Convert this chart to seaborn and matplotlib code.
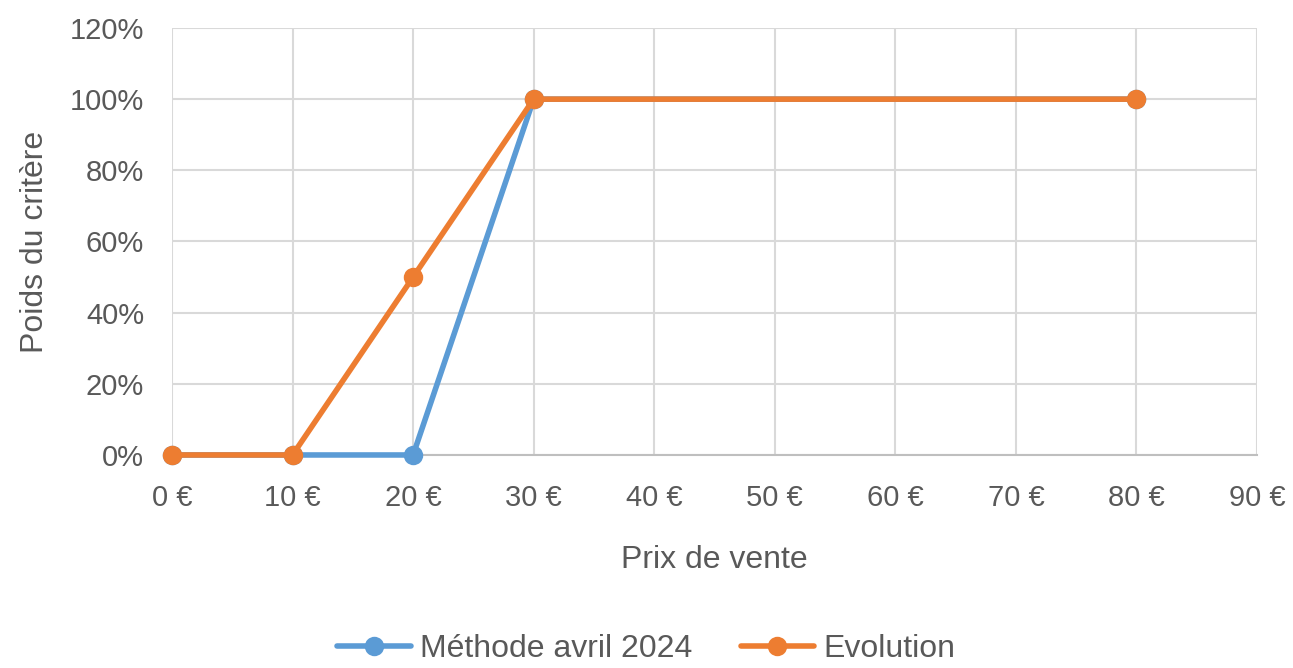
import matplotlib
matplotlib.use("Agg")
import matplotlib.pyplot as plt
import seaborn as sns
import pandas as pd
from matplotlib.ticker import FuncFormatter, MultipleLocator

# Price points (euros) and criterion weight (%) for each method
prix = [0, 10, 20, 30, 80]
methode_avril_2024 = [0, 0, 0, 100, 100]
evolution = [0, 0, 50, 100, 100]
series_names = ["Méthode avril 2024", "Evolution"]
colors = ["#5B9BD5", "#ED7D31"]

df = pd.concat([
    pd.DataFrame({"prix": prix, "poids": methode_avril_2024, "serie": series_names[0]}),
    pd.DataFrame({"prix": prix, "poids": evolution, "serie": series_names[1]}),
])

sns.set_theme(style="white")
plt.rcParams["font.family"] = ["Liberation Sans", "DejaVu Sans"]
text_color = "#595959"

fig = plt.figure(figsize=(12.93, 6.68), dpi=100)
ax = fig.add_axes([0.1330, 0.3189, 0.8392, 0.6392])

sns.lineplot(data=df, x="prix", y="poids", hue="serie", palette=colors,
             hue_order=series_names, marker="o", markersize=14,
             markeredgewidth=0, linewidth=4, ax=ax, legend=True, sort=False)

ax.set_xlim(0, 90)
ax.set_ylim(0, 120)
ax.xaxis.set_major_locator(MultipleLocator(10))
ax.yaxis.set_major_locator(MultipleLocator(20))
ax.xaxis.set_major_formatter(FuncFormatter(lambda v, p: f"{v:.0f} €"))
ax.yaxis.set_major_formatter(FuncFormatter(lambda v, p: f"{v:.0f}%"))
ax.grid(True, color="#D9D9D9", linewidth=1.5)
ax.set_axisbelow(True)
for s in ["top", "right", "left"]:
    ax.spines[s].set_visible(False)
ax.spines["bottom"].set_color("#BFBFBF")
ax.spines["bottom"].set_linewidth(1.5)
ax.spines["bottom"].set_zorder(1)
for line in ax.lines:
    line.set_clip_on(False)

ax.tick_params(axis="both", length=0, labelsize=21, colors=text_color)
ax.tick_params(axis="x", pad=21)
ax.tick_params(axis="y", pad=20)
ax.set_xlabel("Prix de vente", fontsize=23, color=text_color, labelpad=24)
ax.set_ylabel("Poids du critère", fontsize=23, color=text_color, labelpad=14)

handles, labels = ax.get_legend_handles_labels()
ax.legend(handles, labels, loc="center", ncol=2, frameon=False, fontsize=23,
          labelcolor=text_color, handlelength=2.3, columnspacing=1.5,
          handletextpad=0.3, bbox_to_anchor=(0.5, 19 / 668),
          bbox_transform=fig.transFigure)

fig.savefig("out.png", dpi=100)
